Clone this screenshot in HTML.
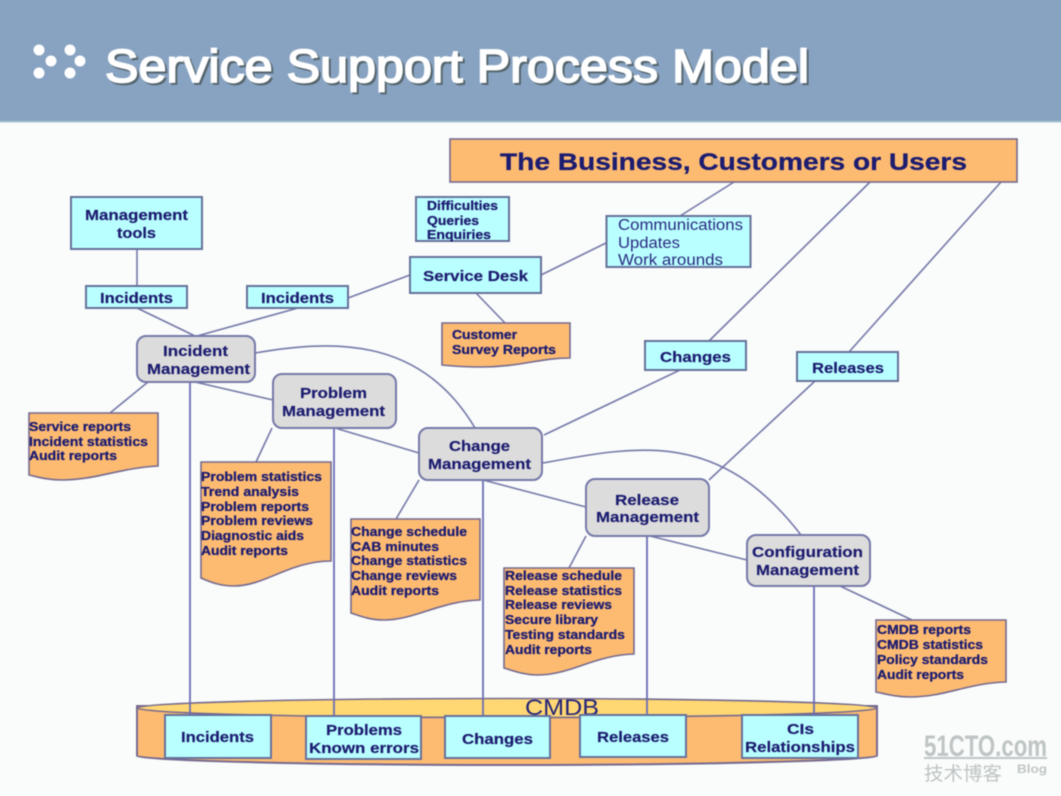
<!DOCTYPE html>
<html><head><meta charset="utf-8"><style>
html,body{margin:0;padding:0;background:#f9fcfb;overflow:hidden}
#w{position:relative;width:1061px;height:796px;overflow:hidden}
svg{display:block;position:absolute;left:-10px;top:-10px;filter:blur(.55px)}
text{font-family:"Liberation Sans","Noto Sans CJK SC",sans-serif;fill:#1c1c70}
.b{font-weight:bold;font-size:15px;stroke:#1c1c70;stroke-width:.2}
.d{font-weight:bold;font-size:13px;stroke:#1c1c70;stroke-width:.3}
.r{font-size:15.5px;fill:#2a2a80}
.l{stroke:#7678a8;stroke-width:1.6;fill:none}
.c{fill:#b9ffff;stroke:#66719a;stroke-width:2}
.g{fill:#dcdcdc;stroke:#7678a8;stroke-width:2}
.o{fill:#fdbb72;stroke:#75698f;stroke-width:1.6}
.t{font-size:46px;fill:#fff;stroke:#fff;stroke-width:1.7}
.w{fill:#bfc4c4;font-weight:bold}
</style></head><body>
<div id="w">
<svg width="1081" height="816" viewBox="-10 -10 1081 816" xmlns="http://www.w3.org/2000/svg">
<rect x="-10" y="-10" width="1081" height="816" fill="#f9fcfb"/>
<rect x="-10" y="-10" width="1081" height="132" fill="#88a3c2"/>
<rect x="-10" y="121" width="1081" height="1.5" fill="#a9c4cc"/>
<g fill="#fff"><circle cx="39" cy="50" r="5.5"/><circle cx="70" cy="50" r="5.5"/><circle cx="51" cy="61" r="5.5"/><circle cx="80" cy="61" r="5.5"/><circle cx="39" cy="73" r="5.5"/><circle cx="70" cy="73" r="5.5"/></g>
<text x="107" y="84" class="t" textLength="704" lengthAdjust="spacingAndGlyphs" style="fill:#56666e;stroke:#56666e">Service Support Process Model</text>
<text x="105" y="82" class="t" textLength="704" lengthAdjust="spacingAndGlyphs">Service Support Process Model</text>

<!-- connectors -->
<g class="l">
<path d="M137 249V286M137 308L195 336M298 308L197 336M348 298L410 275M541 275L606 243M680 216L734 182M709 341L870 182M849 352L1001 182M476 293L505 323M544 435L680 370M709 480L815 381"/>
<path d="M255 353C330 340 420 335 475 428M543 463C640 445 720 430 801 535"/>
<path d="M148 382L110 413M195 382L273 400M335 428L419 453M272 428L256 462M419 480L396 519M483 480L586 507M586 536L569 568M650 536L747 560M840 586L912 620"/>
</g>

<!-- top boxes -->
<rect x="450" y="139" width="567" height="43" class="o"/>
<text x="500" y="170" style="font-size:24px;font-weight:bold;stroke:#1c1c70;stroke-width:.3" textLength="467" lengthAdjust="spacingAndGlyphs">The Business, Customers or Users</text>
<rect x="71" y="197" width="131" height="52" class="c"/>
<text x="85" y="220" class="b" textLength="103" lengthAdjust="spacingAndGlyphs">Management</text>
<text x="117" y="238" class="b" textLength="39" lengthAdjust="spacingAndGlyphs">tools</text>
<rect x="86" y="286" width="101" height="22" class="c"/>
<text x="100" y="303" class="b" textLength="73" lengthAdjust="spacingAndGlyphs">Incidents</text>
<rect x="247" y="286" width="101" height="22" class="c"/>
<text x="261" y="303" class="b" textLength="73" lengthAdjust="spacingAndGlyphs">Incidents</text>
<rect x="416" y="197" width="93" height="44" class="c"/>
<text x="427" y="210" class="d" textLength="71" lengthAdjust="spacingAndGlyphs">Difficulties</text>
<text x="427" y="225" class="d" textLength="52" lengthAdjust="spacingAndGlyphs">Queries</text>
<text x="427" y="239" class="d" textLength="64" lengthAdjust="spacingAndGlyphs">Enquiries</text>
<rect x="410" y="257" width="131" height="36" class="c"/>
<text x="423" y="281" class="b" textLength="105" lengthAdjust="spacingAndGlyphs">Service Desk</text>
<rect x="606.5" y="216" width="144" height="51" class="c"/>
<text x="618" y="230" class="r" textLength="125" lengthAdjust="spacingAndGlyphs">Communications</text>
<text x="618" y="248" class="r" textLength="62" lengthAdjust="spacingAndGlyphs">Updates</text>
<text x="618" y="265" class="r" textLength="105" lengthAdjust="spacingAndGlyphs">Work arounds</text>
<rect x="645" y="341" width="101" height="29" class="c"/>
<text x="660" y="362" class="b" textLength="71" lengthAdjust="spacingAndGlyphs">Changes</text>
<rect x="797" y="352" width="101" height="29" class="c"/>
<text x="812" y="373" class="b" textLength="72" lengthAdjust="spacingAndGlyphs">Releases</text>

<!-- documents -->
<path d="M442 323H570V358C540 358 520 367 480 367C465 367 452 366 442 365Z" class="o"/>
<text x="452" y="339" class="d" textLength="65" lengthAdjust="spacingAndGlyphs">Customer</text>
<text x="452" y="354" class="d" textLength="104" lengthAdjust="spacingAndGlyphs">Survey Reports</text>

<path d="M29 413H158V466C120 468 95 480 62 480C48 480 38 477 29 475Z" class="o"/>
<text x="29" y="431" class="d" textLength="102" lengthAdjust="spacingAndGlyphs">Service reports</text>
<text x="29" y="446" class="d" textLength="119" lengthAdjust="spacingAndGlyphs">Incident statistics</text>
<text x="29" y="460" class="d" textLength="88" lengthAdjust="spacingAndGlyphs">Audit reports</text>

<path d="M201 462H331V561C290 561 265 586 234 586C220 586 210 582 201 578Z" class="o"/>
<text x="201" y="481" class="d" textLength="121" lengthAdjust="spacingAndGlyphs">Problem statistics</text>
<text x="201" y="496" class="d" textLength="98" lengthAdjust="spacingAndGlyphs">Trend analysis</text>
<text x="201" y="511" class="d" textLength="108" lengthAdjust="spacingAndGlyphs">Problem reports</text>
<text x="201" y="525" class="d" textLength="112" lengthAdjust="spacingAndGlyphs">Problem reviews</text>
<text x="201" y="540" class="d" textLength="103" lengthAdjust="spacingAndGlyphs">Diagnostic aids</text>
<text x="201" y="555" class="d" textLength="87" lengthAdjust="spacingAndGlyphs">Audit reports</text>

<path d="M351 519H480V600C440 601 415 620 384 620C370 620 360 616 351 613Z" class="o"/>
<text x="351" y="536" class="d" textLength="116" lengthAdjust="spacingAndGlyphs">Change schedule</text>
<text x="351" y="551" class="d" textLength="88" lengthAdjust="spacingAndGlyphs">CAB minutes</text>
<text x="351" y="565" class="d" textLength="116" lengthAdjust="spacingAndGlyphs">Change statistics</text>
<text x="351" y="580" class="d" textLength="106" lengthAdjust="spacingAndGlyphs">Change reviews</text>
<text x="351" y="595" class="d" textLength="88" lengthAdjust="spacingAndGlyphs">Audit reports</text>

<path d="M504 568H634V654C595 655 570 675 538 675C524 675 514 671 504 668Z" class="o"/>
<text x="505" y="580" class="d" textLength="117" lengthAdjust="spacingAndGlyphs">Release schedule</text>
<text x="505" y="595" class="d" textLength="117" lengthAdjust="spacingAndGlyphs">Release statistics</text>
<text x="505" y="609" class="d" textLength="107" lengthAdjust="spacingAndGlyphs">Release reviews</text>
<text x="505" y="624" class="d" textLength="93" lengthAdjust="spacingAndGlyphs">Secure library</text>
<text x="505" y="639" class="d" textLength="120" lengthAdjust="spacingAndGlyphs">Testing standards</text>
<text x="505" y="654" class="d" textLength="87" lengthAdjust="spacingAndGlyphs">Audit reports</text>

<path d="M876 620H1006V682C968 683 945 697 910 697C896 697 886 694 876 692Z" class="o"/>
<text x="877" y="634" class="d" textLength="94" lengthAdjust="spacingAndGlyphs">CMDB reports</text>
<text x="877" y="649" class="d" textLength="106" lengthAdjust="spacingAndGlyphs">CMDB statistics</text>
<text x="877" y="664" class="d" textLength="111" lengthAdjust="spacingAndGlyphs">Policy standards</text>
<text x="877" y="679" class="d" textLength="87" lengthAdjust="spacingAndGlyphs">Audit reports</text>

<!-- CMDB cylinder -->
<path d="M137 706V756C137 760 300 765 507 765C710 765 877 760 877 756V706Z" fill="#fdbb72" stroke="#75698f" stroke-width="2"/>
<ellipse cx="507" cy="708" rx="370" ry="9.5" fill="#ffd873" stroke="#75698f" stroke-width="1.6"/>
<text x="525" y="715" style="font-size:22px;fill:#25257a" textLength="74" lengthAdjust="spacingAndGlyphs">CMDB</text>

<rect x="165" y="715" width="106" height="43" class="c"/>
<text x="181" y="742" class="b" textLength="73" lengthAdjust="spacingAndGlyphs">Incidents</text>
<rect x="306" y="716" width="115" height="43" class="c"/>
<text x="326" y="735" class="b" textLength="76" lengthAdjust="spacingAndGlyphs">Problems</text>
<text x="309" y="753" class="b" textLength="110" lengthAdjust="spacingAndGlyphs">Known errors</text>
<rect x="445" y="716" width="105" height="42" class="c"/>
<text x="462" y="744" class="b" textLength="71" lengthAdjust="spacingAndGlyphs">Changes</text>
<rect x="580" y="715" width="106" height="42" class="c"/>
<text x="597" y="742" class="b" textLength="72" lengthAdjust="spacingAndGlyphs">Releases</text>
<rect x="742" y="715" width="116" height="43" class="c"/>
<text x="787" y="734" class="b" textLength="27" lengthAdjust="spacingAndGlyphs">CIs</text>
<text x="745" y="752" class="b" textLength="110" lengthAdjust="spacingAndGlyphs">Relationships</text>

<path d="M190 382V715M334 428V716M483 480V716M647 536V715M814 586V716" class="l" style="stroke:#6c6cb4;stroke-width:1.8"/>

<!-- process nodes -->
<rect x="137" y="336" width="118" height="46" rx="9" class="g"/>
<text x="163" y="356" class="b" textLength="65" lengthAdjust="spacingAndGlyphs">Incident</text>
<text x="147" y="374" class="b" textLength="103" lengthAdjust="spacingAndGlyphs">Management</text>
<rect x="273" y="374" width="123" height="54" rx="9" class="g"/>
<text x="300" y="398" class="b" textLength="67" lengthAdjust="spacingAndGlyphs">Problem</text>
<text x="282" y="416" class="b" textLength="103" lengthAdjust="spacingAndGlyphs">Management</text>
<rect x="419" y="428" width="123" height="52" rx="9" class="g"/>
<text x="449" y="451" class="b" textLength="61" lengthAdjust="spacingAndGlyphs">Change</text>
<text x="428" y="469" class="b" textLength="103" lengthAdjust="spacingAndGlyphs">Management</text>
<rect x="586" y="479" width="123" height="57" rx="9" class="g"/>
<text x="615" y="505" class="b" textLength="64" lengthAdjust="spacingAndGlyphs">Release</text>
<text x="596" y="522" class="b" textLength="103" lengthAdjust="spacingAndGlyphs">Management</text>
<rect x="747" y="535" width="123" height="51" rx="9" class="g"/>
<text x="752" y="557" class="b" textLength="111" lengthAdjust="spacingAndGlyphs">Configuration</text>
<text x="756" y="575" class="b" textLength="103" lengthAdjust="spacingAndGlyphs">Management</text>

<!-- watermark -->
<text x="924" y="756" class="w" style="font-size:30px" textLength="123" lengthAdjust="spacingAndGlyphs">51CTO.com</text>
<rect x="924" y="757" width="123" height="2" fill="#bfc4c4"/>
<text x="924" y="780" class="w" style="font-size:19px;font-weight:normal" textLength="78" lengthAdjust="spacingAndGlyphs">技术博客</text>
<text x="1017" y="773" class="w" style="font-size:12px" textLength="30" lengthAdjust="spacingAndGlyphs">Blog</text>
</svg>
</div>
</body></html>
